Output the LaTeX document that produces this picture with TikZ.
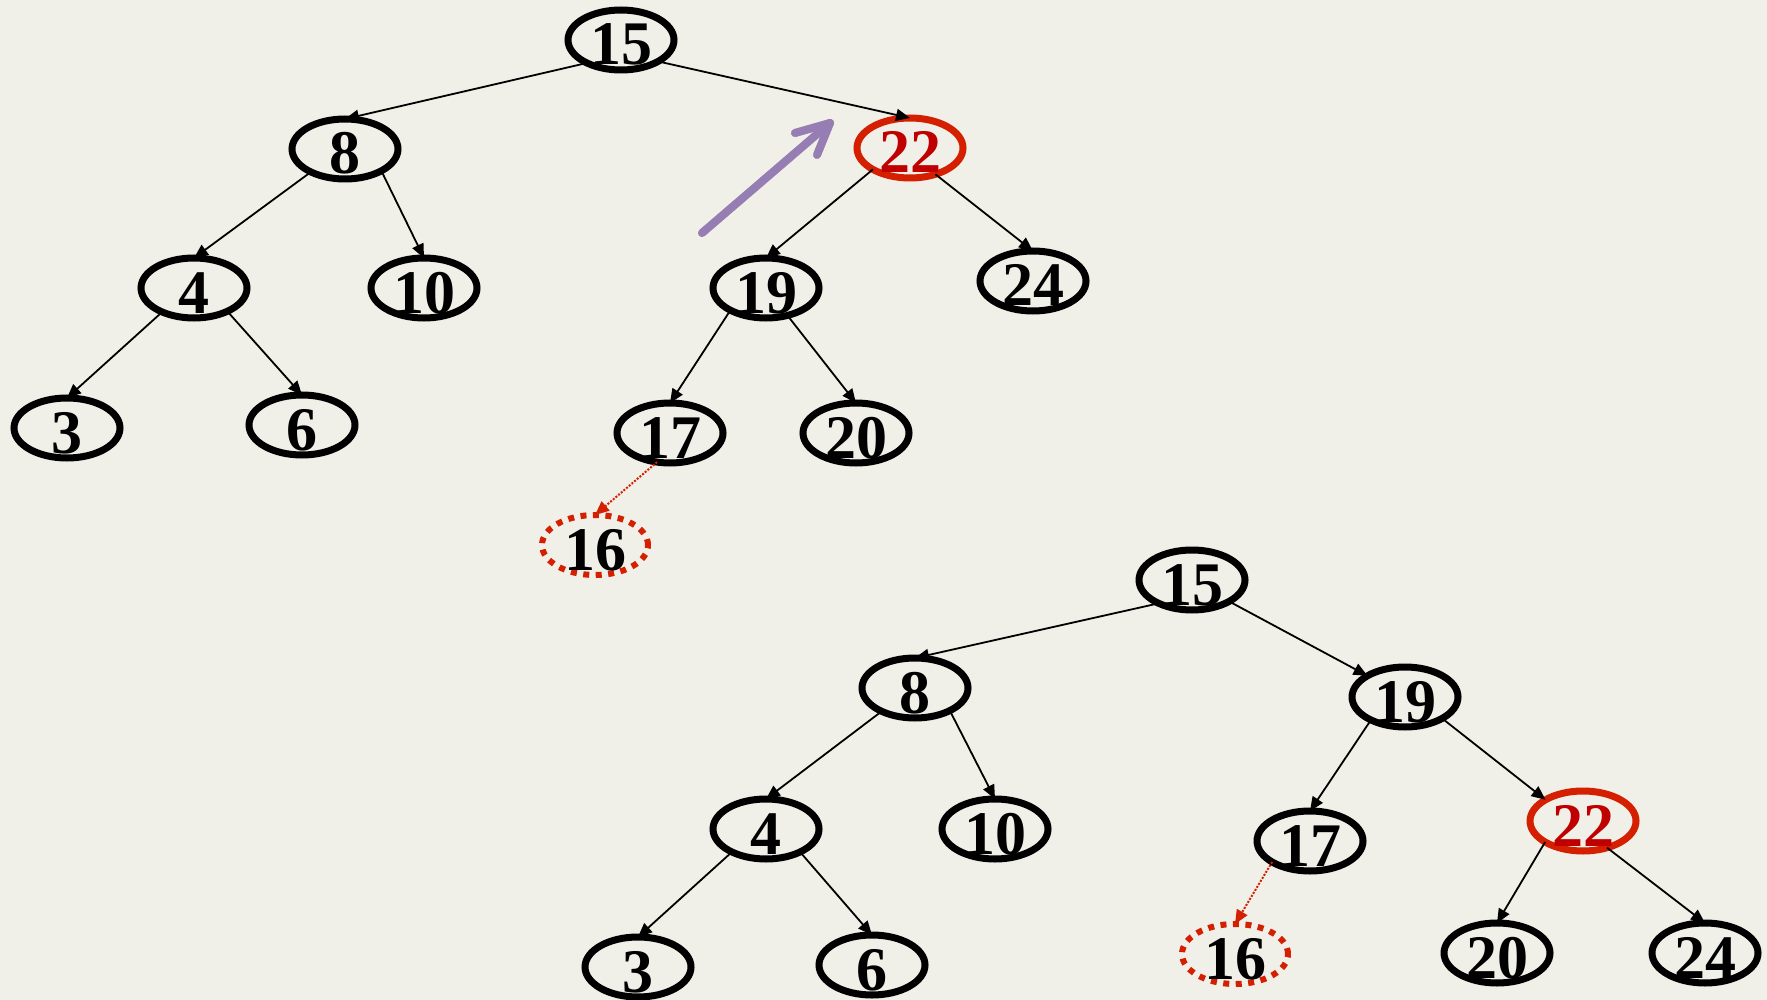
\documentclass[tikz,border=0pt]{standalone}
\usepackage{fontspec}
\setmainfont{Liberation Serif}
\usetikzlibrary{arrows.meta,shapes.geometric}
\definecolor{bg}{RGB}{240,240,232}
\definecolor{hotred}{RGB}{212,32,0}
\definecolor{keyred}{RGB}{192,0,0}
\definecolor{hintpurple}{RGB}{150,125,180}
% key label: zero-height box so the ellipse size stays fixed
\newcommand{\keytext}[1]{\raisebox{-25pt}[0pt][0pt]{\fontsize{62}{62}\selectfont\bfseries #1}}
\tikzset{
  keynode/.style={ellipse, draw=black, line width=7pt, minimum width=106pt,
    minimum height=60pt, inner sep=0pt, outer sep=0pt},
  hotnode/.style={keynode, draw=hotred, text=keyred},
  newnode/.style={keynode, draw=hotred, line width=6pt, dash pattern=on 6pt off 6.5pt},
  link/.style={draw=black, line width=1.8pt, -{Triangle[length=14pt,width=12pt]}},
  newlink/.style={draw=hotred, line width=2pt, dash pattern=on 2pt off 1.5pt,
    -{Triangle[length=14pt,width=12pt]}},
  hint/.style={draw=hintpurple, line width=8pt, line cap=round, line join=round},
  hintshadow/.style={draw=black, opacity=0.22, line width=8pt, line cap=round, line join=round},
}
\begin{document}
\begin{tikzpicture}[x=1pt, y={(0pt,-1pt)}]
  \fill[bg] (0,0) rectangle (1767,1000);
  \useasboundingbox (0,0) rectangle (1767,1000);
  \clip (0,0) rectangle (1767,1000);

  % ---- tree before the rotation ----
  \node[keynode] (t15) at (621,40)  {\keytext{15}};
  \node[keynode] (t8)  at (345,149) {\keytext{8}};
  \node[hotnode] (t22) at (910,148) {\keytext{22}};
  \node[keynode] (t4)  at (194,288) {\keytext{4}};
  \node[keynode] (t10) at (424,288) {\keytext{10}};
  \node[keynode] (t19) at (766,288) {\keytext{19}};
  \node[keynode] (t24) at (1033,281) {\keytext{24}};
  \node[keynode] (t3)  at (67,428)  {\keytext{3}};
  \node[keynode] (t6)  at (302,425) {\keytext{6}};
  \node[keynode] (t17) at (670,433) {\keytext{17}};
  \node[keynode] (t20) at (856,433) {\keytext{20}};
  \node[newnode] (t16) at (595,545) {\keytext{16}};

  \draw[link] (t15.-146) -- (t8.north);
  \draw[link] (t15.-30)  -- (t22.north);
  \draw[link] (t8.-146)  -- (t4.north);
  \draw[link] (t8.-31)   -- (t10.north);
  \draw[link] (t4.-143)  -- (t3.north);
  \draw[link] (t4.-35)   -- (t6.north);
  \draw[link] (t22.-150) -- (t19.north);
  \draw[link] (t22.-46)  -- (t24.north);
  \draw[link] (t19.-148) -- (t17.north);
  \draw[link] (t19.-52)  -- (t20.north);
  \draw[newlink] (t17.-114) -- (t16.north);

  % rotation hint arrow
  \coordinate (ptail) at (702,233);
  \coordinate (ptip)  at (830,123);
  \coordinate (pbarbA) at (795,133);
  \coordinate (pbarbB) at (817,155);
  \begin{scope}[shift={(3,4)}]
    \draw[hintshadow] (ptail) -- (ptip);
    \draw[hintshadow] (pbarbA) -- (ptip) -- (pbarbB);
  \end{scope}
  \draw[hint] (ptail) -- (ptip);
  \draw[hint] (pbarbA) -- (ptip) -- (pbarbB);

  % ---- tree after the rotation ----
  \node[keynode] (b15) at (1192,580) {\keytext{15}};
  \node[keynode] (b8)  at (915,688)  {\keytext{8}};
  \node[keynode] (b19) at (1405,697) {\keytext{19}};
  \node[keynode] (b4)  at (766,829)  {\keytext{4}};
  \node[keynode] (b10) at (995,829)  {\keytext{10}};
  \node[keynode] (b17) at (1310,841) {\keytext{17}};
  \node[hotnode] (b22) at (1583,821) {\keytext{22}};
  \node[keynode] (b3)  at (638,967)  {\keytext{3}};
  \node[keynode] (b6)  at (872,965)  {\keytext{6}};
  \node[newnode] (b16) at (1235,954) {\keytext{16}};
  \node[keynode] (b20) at (1497,953) {\keytext{20}};
  \node[keynode] (b24) at (1705,953) {\keytext{24}};

  \draw[link] (b15.-145) -- (b8.north);
  \draw[link] (b15.-30)  -- (b19.north west);
  \draw[link] (b8.-145)  -- (b4.north);
  \draw[link] (b8.-33)   -- (b10.north);
  \draw[link] (b4.-146)  -- (b3.north);
  \draw[link] (b4.-34)   -- (b6.north);
  \draw[link] (b19.-146) -- (b17.north);
  \draw[link] (b19.-30)  -- (b22.north west);
  \draw[link] (b22.-151) -- (b20.north);
  \draw[link] (b22.-48)  -- (b24.north);
  \draw[newlink] (b17.-151) -- (b16.north);
\end{tikzpicture}
\end{document}
